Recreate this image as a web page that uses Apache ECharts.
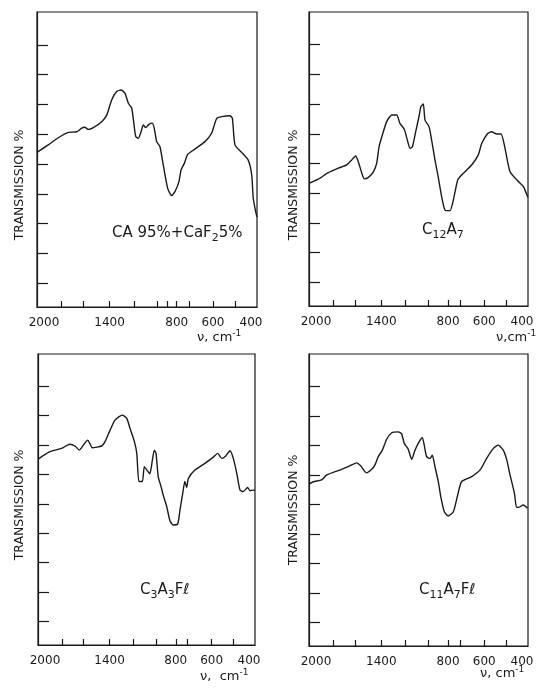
<!DOCTYPE html>
<html>
<head>
<meta charset="utf-8">
<script src="https://cdn.jsdelivr.net/npm/echarts@6/dist/echarts.min.js"></script>
<style>
  html, body { margin: 0; padding: 0; background: #fff; }
  #main { width: 545px; height: 694px; }
</style>
</head>
<body>
<div id="main"></div>
<script>
// the spectrometer's wavenumber scale is not linear: calibration table (cm-1 -> % of axis width)
var warpWn = [2000, 1800, 1600, 1400, 1200, 1000, 800, 700, 600, 500, 400];
var warpPos = [0, 11, 21, 33, 44, 54.5, 63.5, 69, 80, 90, 100];

var labelWn = [2000, 1400, 800, 600, 400];
var ticksA = [1800, 1600, 1400, 1200, 1000, 900, 800, 700, 600, 500];
var ticksB = [1800, 1600, 1400, 1200, 1000, 800, 700, 600, 500];
var yTicks = [10, 20, 30, 40, 50, 60, 70, 80, 90];

// [wavenumber cm-1, transmission]
var caCaF2 = [
  [2000, 53.9], [1907, 56.4], [1824, 58.8], [1736, 60.6], [1659, 60.8], [1614, 62], [1587, 62.3],
  [1562, 61.6], [1523, 62.2], [1460, 64.2], [1422, 66.4], [1383, 71.5], [1342, 74.3], [1306, 74.8],
  [1273, 73.7], [1245, 70.4], [1217, 68.7], [1198, 63.1], [1183, 59.2], [1162, 58.6], [1137, 60.8],
  [1118, 63.1], [1097, 62.2], [1069, 63.3], [1040, 63.7], [1023, 62], [1002, 57.5], [969, 55.8],
  [936, 49.7], [891, 41.8], [851, 39.4], [818, 40.7], [782, 44], [764, 48], [737, 50.2], [709, 53.2],
  [675, 55], [633, 57.5], [606, 60.3], [583, 65.3], [560, 65.9], [523, 66.2], [512, 65.3], [500, 56.4],
  [470, 53.9], [440, 51.3], [424, 46.3], [417, 38.5], [406, 34], [400, 32.2]
];
var c12a7 = [
  [2000, 43.3], [1923, 44.7], [1840, 46.9], [1752, 48.4], [1676, 49.5], [1630, 51.2], [1595, 52.5],
  [1575, 50.6], [1548, 46.7], [1529, 44.8], [1498, 45.3], [1460, 47.2], [1435, 50], [1417, 55.6],
  [1391, 59.6], [1355, 64.1], [1313, 66.3], [1272, 66.3], [1245, 63.5], [1209, 61.5], [1179, 57.3],
  [1160, 55.1], [1139, 55.6], [1110, 60.7], [1082, 65.7], [1065, 69.1], [1044, 70], [1029, 64.6],
  [993, 62.4], [967, 57.9], [933, 51.2], [900, 45.5], [865, 38.8], [831, 34.3], [784, 34.1], [756, 37.7],
  [720, 44.4], [694, 46.1], [652, 49.5], [625, 52.8], [610, 56.8], [584, 60.1], [566, 60.7], [543, 59.9],
  [523, 59.9], [505, 55.1], [482, 47.2], [444, 43.9], [421, 42.2], [404, 39.2], [400, 38.6]
];
var c3a3fl = [
  [2000, 65.2], [1969, 66.1], [1900, 67.8], [1802, 68.9], [1726, 70.3], [1679, 69.7], [1639, 68.3],
  [1602, 70], [1568, 71.7], [1550, 70.4], [1533, 69.1], [1461, 69.7], [1435, 71.2], [1396, 75.1],
  [1355, 78.5], [1294, 80.2], [1256, 79.1], [1229, 75.7], [1192, 71.2], [1171, 67.2], [1152, 57.6],
  [1122, 57.6], [1105, 62.7], [1082, 61.5], [1057, 60.2], [1034, 64.9], [1017, 68.3], [1002, 67.2],
  [980, 59.3], [951, 55.9], [929, 53], [893, 49.1], [860, 44.3], [826, 42.8], [784, 43.2], [765, 47.9],
  [742, 53.6], [724, 57.6], [709, 55.6], [697, 58.7], [670, 61.5], [628, 63.8], [592, 65.9], [572, 67.2],
  [553, 65.5], [535, 66.3], [515, 68.1], [500, 65.5], [484, 60.4], [469, 54.7], [454, 54.2], [434, 55.6],
  [423, 54.5], [408, 54.7], [400, 54.6]
];
var c11a7fl = [
  [2000, 56.9], [1964, 57.7], [1895, 58.3], [1853, 60], [1782, 61.1], [1722, 61.9], [1662, 62.8],
  [1587, 64.1], [1555, 63], [1512, 60.7], [1473, 61.9], [1448, 63.4], [1423, 66.2], [1391, 68.4],
  [1355, 72.1], [1313, 74.3], [1258, 74.6], [1231, 73.9], [1209, 70.7], [1175, 68.7], [1145, 65.3],
  [1116, 68.4], [1088, 70.7], [1053, 72.7], [1036, 70.1], [1015, 66.2], [983, 65.6], [960, 66.7],
  [933, 62.8], [899, 57.7], [871, 52.1], [838, 47.5], [798, 46.1], [756, 47.5], [720, 53.2], [694, 57.7],
  [652, 59.4], [617, 61.7], [589, 65.6], [558, 69], [536, 70.1], [513, 68.4], [497, 65.1], [482, 60],
  [462, 53.8], [452, 49], [437, 49.2], [422, 49.8], [402, 48.7]
];

function warp(wn) {
  for (var i = 0; i < warpWn.length - 1; i++) {
    var a = warpWn[i], b = warpWn[i + 1];
    if (wn <= a && wn >= b) {
      return warpPos[i] + (a - wn) / (a - b) * (warpPos[i + 1] - warpPos[i]);
    }
  }
  return wn > warpWn[0] ? 0 : 100;
}

var ink = "#1a1a1a";
var font = "DejaVu Sans";

var panels = [
  { data: caCaF2, ticks: ticksA, grid: { left: 37, top: 12, width: 220, height: 295 } },
  { data: c12a7, ticks: ticksB, grid: { left: 309, top: 12, width: 219, height: 294 } },
  { data: c3a3fl, ticks: ticksB, grid: { left: 38, top: 354, width: 217, height: 291 } },
  { data: c11a7fl, ticks: ticksB, grid: { left: 309, top: 354, width: 219, height: 292 } }
];

function labelText(v) {
  for (var i = 0; i < labelWn.length; i++) {
    if (Math.abs(warp(labelWn[i]) - v) < 0.01) {
      var w = labelWn[i];
      if (w === 2000) return "{lo|" + w + "}";
      if (w === 400) return "{hi|" + w + "}";
      return "{n|" + w + "}";
    }
  }
  return "";
}

var labelRich = {
  n: { fontFamily: font, fontSize: 12, color: ink },
  lo: { fontFamily: font, fontSize: 12, color: ink, padding: [0, 0, 0, 14] },
  hi: { fontFamily: font, fontSize: 12, color: ink, padding: [0, 12, 0, 0] }
};

var grids = [], xAxes = [], yAxes = [], series = [];
panels.forEach(function (p, i) {
  grids.push(Object.assign({
    show: true, borderColor: ink, borderWidth: 1.2,
    containLabel: false, outerBoundsMode: "none"
  }, p.grid));
  xAxes.push({
    type: "value", gridIndex: i, min: 0, max: 100,
    axisLine: { show: true, lineStyle: { color: ink, width: 1.2 } },
    axisTick: { show: true, inside: true, length: 6, lineStyle: { color: ink, width: 1.2 },
      customValues: p.ticks.map(warp) },
    axisLabel: { show: true, margin: 10, customValues: labelWn.map(warp),
      formatter: labelText, rich: labelRich },
    splitLine: { show: false }
  });
  yAxes.push({
    type: "value", gridIndex: i, min: 2, max: 101,
    axisLine: { show: true, lineStyle: { color: ink, width: 1.2 } },
    axisTick: { show: true, inside: true, length: 11, lineStyle: { color: ink, width: 1.2 },
      customValues: yTicks },
    axisLabel: { show: false },
    splitLine: { show: false }
  });
  series.push({
    type: "line", xAxisIndex: i, yAxisIndex: i,
    data: p.data.map(function (d) { return [warp(d[0]), d[1]]; }),
    showSymbol: false, smooth: 0.2,
    lineStyle: { color: ink, width: 1.4 },
    silent: true
  });
});

function rich(text, x, y) {
  return {
    type: "text", x: x, y: y, silent: true,
    style: {
      text: text, fontFamily: font, fontSize: 15, fill: ink,
      align: "left", verticalAlign: "middle",
      rich: {
        m: { fontFamily: font, fontSize: 15, fill: ink },
        s: { fontFamily: font, fontSize: 11, fill: ink, padding: [10, 0, 0, 0] },
        u: { fontFamily: font, fontSize: 13, fill: ink },
        p: { fontFamily: font, fontSize: 9, fill: ink, padding: [0, 0, 8, 0] }
      }
    }
  };
}
function yName(x, y) {
  return {
    type: "text", x: x, y: y, rotation: Math.PI / 2, silent: true,
    style: { text: "TRANSMISSION %", fontFamily: font, fontSize: 12.5, fill: ink,
      align: "center", verticalAlign: "middle" }
  };
}

var graphics = [
  yName(20, 185), yName(294, 185), yName(20, 505), yName(294, 510),
  rich("{m|CA 95%+CaF}{s|2}{m|5%}", 112, 233),
  rich("{m|C}{s|12}{m|A}{s|7}", 422, 230),
  rich("{m|C}{s|3}{m|A}{s|3}{m|Fℓ}", 140, 590),
  rich("{m|C}{s|11}{m|A}{s|7}{m|Fℓ}", 419, 590),
  rich("{u|ν, cm}{p|-1}", 197, 338),
  rich("{u|ν,cm}{p|-1}", 496, 338),
  rich("{u|ν,  cm}{p|-1}", 200, 677),
  rich("{u|ν, cm}{p|-1}", 480, 674)
];

var chart = echarts.init(document.getElementById("main"));
var option = {
  backgroundColor: "#fff",
  animation: false,
  grid: grids,
  xAxis: xAxes,
  yAxis: yAxes,
  series: series,
  graphic: graphics
};
chart.setOption(option);
</script>
</body>
</html>
